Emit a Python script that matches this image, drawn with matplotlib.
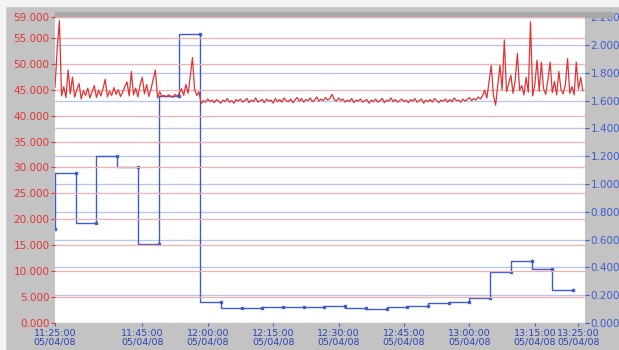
import numpy as np
import matplotlib
matplotlib.use("Agg")
import matplotlib.pyplot as plt
from matplotlib.patches import Rectangle

# red trace (left axis), sampled every 0.5 min from 11:25:00
red_start = 0.0
red_step = 0.5
red_early = [
    45.5, 53.0, 58.3, 43.8, 45.6, 43.5, 48.8, 44.2, 47.4, 43.6,
    45.0, 46.2, 43.2, 44.8, 43.9, 45.3, 43.4, 44.6, 45.8, 43.5,
    44.9, 43.8, 45.2, 47.0, 43.6, 44.7, 43.9, 45.4, 44.1, 45.0,
    43.7, 44.5, 45.6, 46.5, 43.8, 48.5, 44.0, 45.3, 43.6, 45.9,
    47.4, 44.2, 46.0, 43.7, 45.1, 47.0, 48.8, 43.4, 44.6, 43.7,
    43.9, 43.6, 44.0, 43.8, 43.5, 44.1, 43.7, 44.4, 45.2, 43.9,
    46.0, 44.3, 47.5, 51.2, 45.0, 43.9, 44.6,
]
red_mid = [
    42.3, 42.9, 42.6, 43.2, 42.7, 43.0, 42.5, 43.1, 42.8, 42.4,
    43.0, 42.7, 43.3, 42.6, 42.9, 42.4, 43.1, 42.8, 43.2, 42.6,
    42.9, 43.3, 42.5, 43.0, 42.7, 43.4, 42.6, 42.9, 43.1, 42.5,
    43.2, 42.8, 43.0, 42.4, 43.3, 42.7, 43.1, 42.6, 43.4, 42.9,
    42.7, 43.2, 42.5, 43.0, 43.5, 42.8, 43.3, 42.6, 43.1, 42.9,
    43.4, 42.7, 43.0, 43.6, 42.8, 43.2, 42.9, 43.5, 43.0, 43.3,
    44.1, 43.1, 42.8, 43.4, 42.9, 43.2, 42.6, 43.0, 42.7, 43.3,
    42.5, 43.0, 42.8, 43.2, 42.6, 42.9, 43.1, 42.4, 43.0, 42.7,
    43.2, 42.6, 42.9, 43.3, 42.5, 43.0, 42.8, 43.4, 42.7, 43.1,
    42.6, 42.9, 43.2, 42.7, 43.0, 42.5, 43.1, 42.8, 43.3, 42.6,
    42.9, 43.2, 42.4, 43.0, 42.7, 43.1, 42.6, 43.3, 42.9, 42.5,
    43.0, 42.8, 43.2, 42.6, 43.1, 42.7, 43.4, 42.9, 43.0, 42.6,
    43.2, 42.8, 43.1, 43.5, 42.9, 43.3, 43.0, 43.6, 43.2,
]
red_late = [
    43.8, 44.9, 43.4, 46.5, 49.7, 44.0, 42.0, 45.8, 49.7, 45.0,
    54.6, 44.6, 46.2, 47.8, 44.3, 46.8, 52.0, 44.9, 45.8, 44.0,
    47.4, 44.5, 58.1, 43.8, 46.0, 50.7, 44.7, 50.3, 45.2, 44.1,
    47.0, 50.3, 44.4, 46.6, 44.0, 48.5, 45.0, 44.2, 46.0, 51.0,
    44.3, 45.6, 44.0, 50.3, 45.1, 47.4, 44.8,
]

# blue step trace (right axis), minutes after 11:25:00
blue_t = [0.0, 4.75, 9.5, 14.25, 19.0, 23.75, 28.5, 33.25, 38.0, 42.75,
          47.5, 52.25, 57.0, 61.75, 66.5, 71.25, 76.0, 80.75, 85.5, 90.25,
          95.0, 99.75, 104.5, 109.25, 114.0, 118.75]
blue_v = [0.676, 1.078, 0.722, 1.200, 1.120, 0.570, 1.630, 2.075, 0.153, 0.105,
          0.110, 0.113, 0.117, 0.115, 0.120, 0.105, 0.098, 0.113, 0.120, 0.142,
          0.153, 0.178, 0.365, 0.448, 0.386, 0.237]

tick_min = [0, 20, 35, 50, 65, 80, 95, 110, 120]
tick_lbl = ["11:25:00", "11:45:00", "12:00:00", "12:15:00", "12:30:00",
            "12:45:00", "13:00:00", "13:15:00", "13:25:00"]
date_lbl = "05/04/08"

left_ticks = [0, 5, 10, 15, 20, 25, 30, 35, 40, 45, 50, 55, 59]
right_ticks = [0.0, 0.2, 0.4, 0.6, 0.8, 1.0, 1.2, 1.4, 1.6, 1.8, 2.0, 2.2]

RED = "#e03434"
BLUE = "#3e5ccc"

red_v = np.array(red_early + red_mid + red_late)
red_t = red_start + red_step * np.arange(len(red_v))

fig = plt.figure(figsize=(6.19, 3.5), dpi=100, facecolor="#c3c3c3")
# light outer rim and darker band over the plot
fig.patches.append(Rectangle((0, 0), 0.008, 1, transform=fig.transFigure,
                             color="#f4f4f4", zorder=0))
fig.patches.append(Rectangle((0, 0.982), 1, 0.018, transform=fig.transFigure,
                             color="#f4f4f4", zorder=0))
fig.patches.append(Rectangle((0.0889, 0.951), 0.9, 0.014, transform=fig.transFigure,
                             color="#a8a8a8", zorder=0))

ax = fig.add_axes([0.0889, 0.0771, 0.8562, 0.874])
ax2 = ax.twinx()

# right axis drawn underneath: white background + blue grid + step line
ax.set_zorder(2)
ax.patch.set_visible(False)
ax2.patch.set_visible(True)
ax2.patch.set_facecolor("white")

ax2.step(blue_t, blue_v, where="pre", color=BLUE, lw=1.0,
         marker="s", markersize=1.8, zorder=3)
ax2.set_ylim(0, 2.2)
ax2.set_yticks(right_ticks)
ax2.set_yticklabels([f"{v:.3f}" for v in right_ticks])
ax2.grid(axis="y", color="#b8c4f0", lw=0.9)

ax.plot(red_t, red_v, color=RED, lw=0.9, zorder=4)
ax.set_ylim(0, 59)
ax.set_yticks(left_ticks)
ax.set_yticklabels([f"{v:.3f}" for v in left_ticks])
ax.grid(axis="y", color="#f4b0b0", lw=0.9)
ax.set_xlim(0, 121.5)
ax.set_xticks(tick_min)
ax.set_xticklabels([f"{s}\n{date_lbl}" for s in tick_lbl], linespacing=0.95)

for a in (ax, ax2):
    for s in a.spines.values():
        s.set_visible(False)

ax.tick_params(axis="y", colors=RED, labelsize=7.5, length=3, width=0.8, pad=1)
ax2.tick_params(axis="y", colors=BLUE, labelsize=7.5, length=3, width=0.8, pad=1)
ax.tick_params(axis="x", colors=BLUE, labelsize=6.8, length=2, width=0.8, pad=2.5)
for lbl in ax.get_yticklabels():
    lbl.set_color(RED)
for lbl in ax2.get_yticklabels():
    lbl.set_color(BLUE)
for lbl in ax.get_xticklabels():
    lbl.set_color("#2a44b8")

fig.savefig("out.png", dpi=100, facecolor=fig.get_facecolor())
